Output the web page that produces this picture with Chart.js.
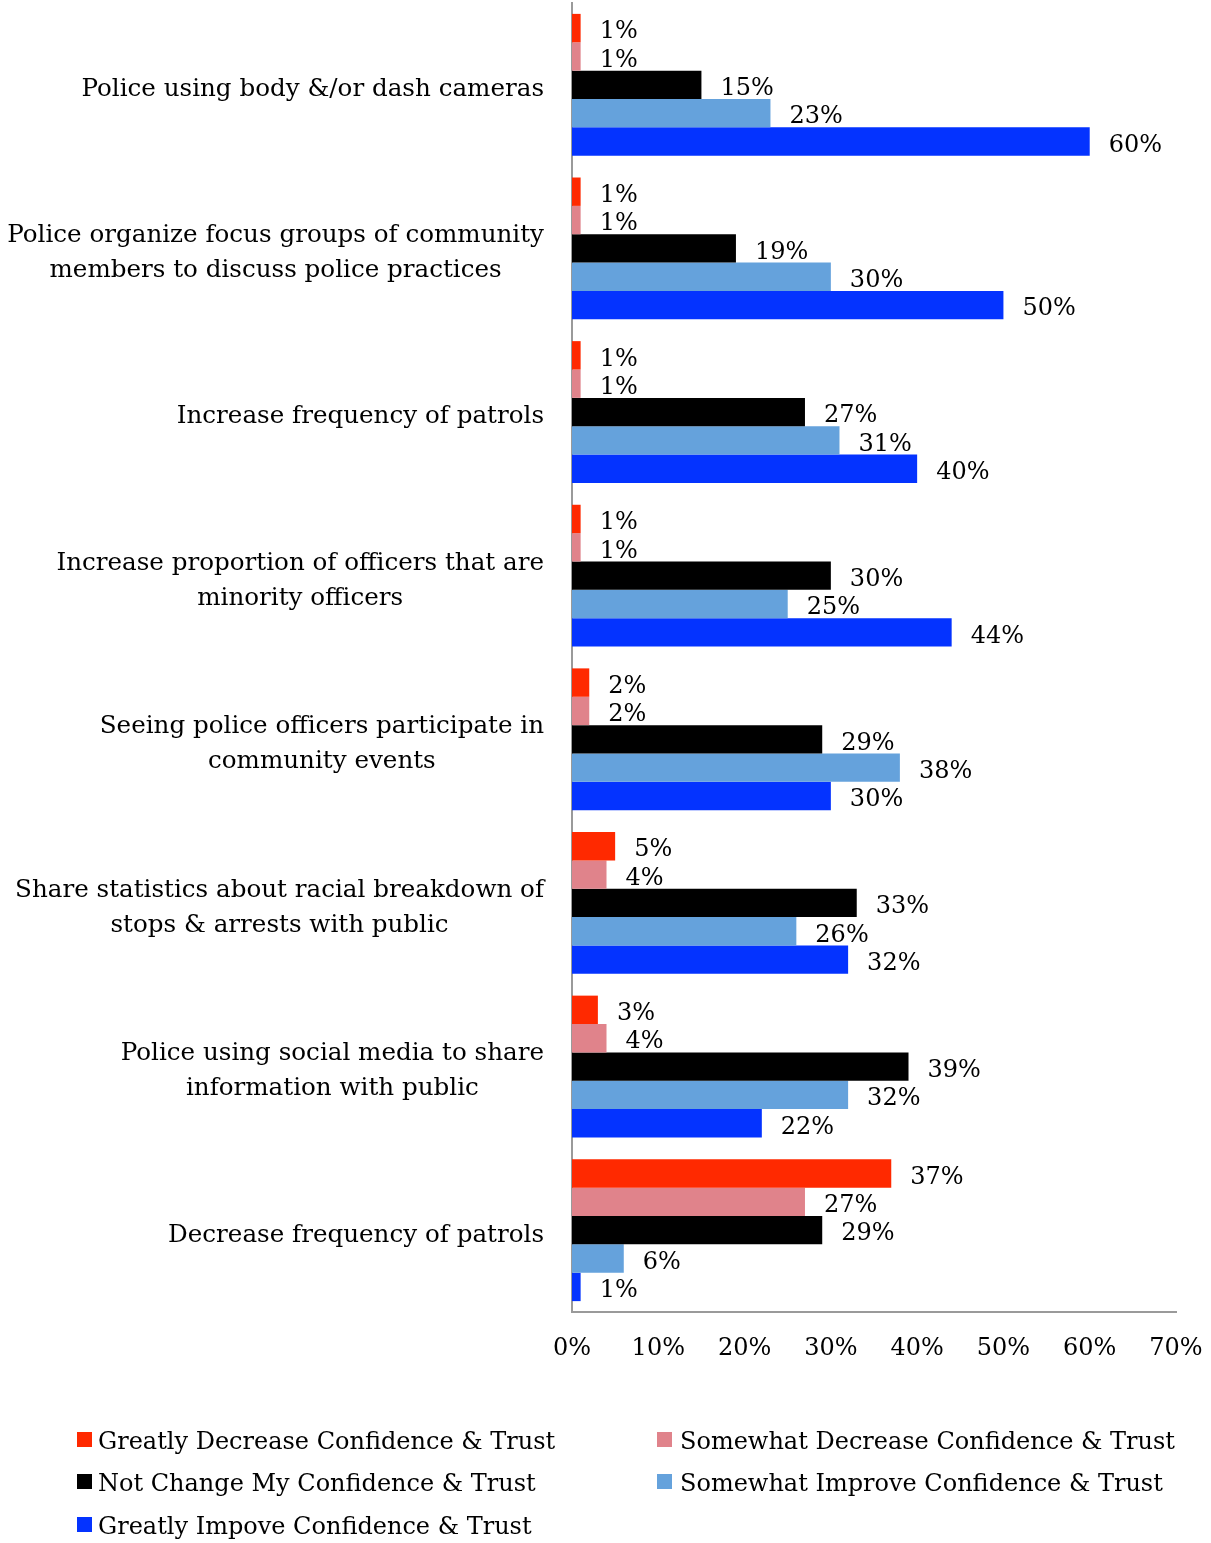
<!DOCTYPE html>
<html lang="en">
<head>
<meta charset="UTF-8">
<title>Police practices and confidence</title>
<script src="https://cdn.jsdelivr.net/npm/chart.js"></script>
<style>
  body { margin: 0; background: #fff; }
  .wrap { position: relative; width: 1211px; height: 1543px; font-family: 'DejaVu Serif', serif; }
  .chart-box { position: absolute; left: 0; top: 0; width: 1211px; height: 1400px; }
  .legend { position: absolute; left: 0; top: 0; width: 1211px; height: 1543px; pointer-events: none; }
  .legend .item { position: absolute; font-size: 24px; color: #000; white-space: nowrap; line-height: 30px; }
  .legend .sw { position: absolute; width: 15px; height: 15px; }
</style>
</head>
<body>
<div class="wrap">
  <div class="chart-box"><canvas id="chart"></canvas></div>
  <div class="legend" id="legend"></div>
</div>

<script>
// categories, top to bottom
const categories = [
  ['Police using body &/or dash cameras'],
  ['Police organize focus groups of community', 'members to discuss police practices'],
  ['Increase frequency of patrols'],
  ['Increase proportion of officers that are', 'minority officers'],
  ['Seeing police officers participate in', 'community events'],
  ['Share statistics about racial breakdown of', 'stops & arrests with public'],
  ['Police using social media to share', 'information with public'],
  ['Decrease frequency of patrols']
]

const seriesNames = [
  'Greatly Decrease Confidence & Trust',
  'Somewhat Decrease Confidence & Trust',
  'Not Change My Confidence & Trust',
  'Somewhat Improve Confidence & Trust',
  'Greatly Impove Confidence & Trust'
]

const greatlyDecrease = [1, 1, 1, 1, 2, 5, 3, 37]
const somewhatDecrease = [1, 1, 1, 1, 2, 4, 4, 27]
const notChange = [15, 19, 27, 30, 29, 33, 39, 29]
const somewhatImprove = [23, 30, 31, 25, 38, 26, 32, 6]
const greatlyImprove = [60, 50, 40, 44, 30, 32, 22, 1]

const xTicks = [0, 10, 20, 30, 40, 50, 60, 70]

const colors = ['#ff2900', '#e0838b', '#000000', '#65a2dc', '#0433ff']
const FONT = "'DejaVu Serif', serif"
const FS = 24

const seriesValues = [greatlyDecrease, somewhatDecrease, notChange, somewhatImprove, greatlyImprove]

// category labels: each label centered on its own widest line, block right aligned
const catLabels = {
  id: 'catLabels',
  afterDraw(chart) {
    const ctx = chart.ctx
    const y = chart.scales.y
    const right = chart.chartArea.left - 28
    ctx.save()
    ctx.font = '24.6px ' + FONT
    ctx.fillStyle = '#000'
    ctx.textBaseline = 'middle'
    ctx.textAlign = 'center'
    categories.forEach((lines, i) => {
      const cy = y.getPixelForValue(i)
      const widest = Math.max(...lines.map(l => ctx.measureText(l).width))
      const cx = right - widest / 2
      const lh = 35
      lines.forEach((l, k) => {
        ctx.fillText(l, cx, cy + (k - (lines.length - 1) / 2) * lh + 5)
      })
    })
    ctx.restore()
  }
}

// value labels at end of each bar
const valueLabels = {
  id: 'valueLabels',
  afterDatasetsDraw(chart) {
    const ctx = chart.ctx
    ctx.save()
    ctx.font = FS + 'px ' + FONT
    ctx.fillStyle = '#000'
    ctx.textBaseline = 'middle'
    ctx.textAlign = 'left'
    chart.data.datasets.forEach((ds, di) => {
      chart.getDatasetMeta(di).data.forEach((bar, i) => {
        ctx.fillText(ds.data[i] + '%', bar.x + 19, bar.y + 4)
      })
    })
    ctx.restore()
  }
}

new Chart(document.getElementById('chart'), {
  type: 'bar',
  data: {
    labels: categories.map(c => c.join(' ')),
    datasets: seriesNames.map((name, i) => ({
      label: name,
      data: seriesValues[i],
      backgroundColor: colors[i],
      borderWidth: 0,
      barPercentage: 1,
      categoryPercentage: 0.867
    }))
  },
  options: {
    indexAxis: 'y',
    responsive: true,
    maintainAspectRatio: false,
    animation: false,
    layout: { padding: { top: 3, right: 35, left: 0, bottom: 0 } },
    plugins: {
      legend: { display: false },
      tooltip: { enabled: false }
    },
    scales: {
      x: {
        min: 0,
        max: 70,
        afterBuildTicks(scale) { scale.ticks = xTicks.map(v => ({ value: v })) },
        afterFit(scale) {
          scale.height = 88
          scale.paddingLeft = 0
          scale.paddingRight = 0
        },
        grid: { display: false, drawTicks: false },
        border: { display: true, color: '#9a9a9a', width: 2 },
        ticks: {
          padding: 22,
          color: '#000',
          font: { family: FONT, size: FS },
          callback: v => v + '%'
        }
      },
      y: {
        afterFit(scale) { scale.width = 572 },
        grid: { display: false, drawTicks: false },
        border: { display: true, color: '#9a9a9a', width: 2 },
        ticks: { display: false }
      }
    }
  },
  plugins: [catLabels, valueLabels]
})

// legend, two columns
const legendPos = [
  { x: 77, tx: 98, y: 1441 },
  { x: 657, tx: 680, y: 1441 },
  { x: 77, tx: 98, y: 1483 },
  { x: 657, tx: 680, y: 1483 },
  { x: 77, tx: 98, y: 1526 }
]
const legend = document.getElementById('legend')
seriesNames.forEach((name, i) => {
  const p = legendPos[i]
  const sw = document.createElement('div')
  sw.className = 'sw'
  sw.style.left = p.x + 'px'
  sw.style.top = (p.y - 9) + 'px'
  sw.style.background = colors[i]
  legend.appendChild(sw)
  const t = document.createElement('div')
  t.className = 'item'
  t.style.left = p.tx + 'px'
  t.style.top = (p.y - 15) + 'px'
  t.textContent = name
  legend.appendChild(t)
})
</script>
</body>
</html>
